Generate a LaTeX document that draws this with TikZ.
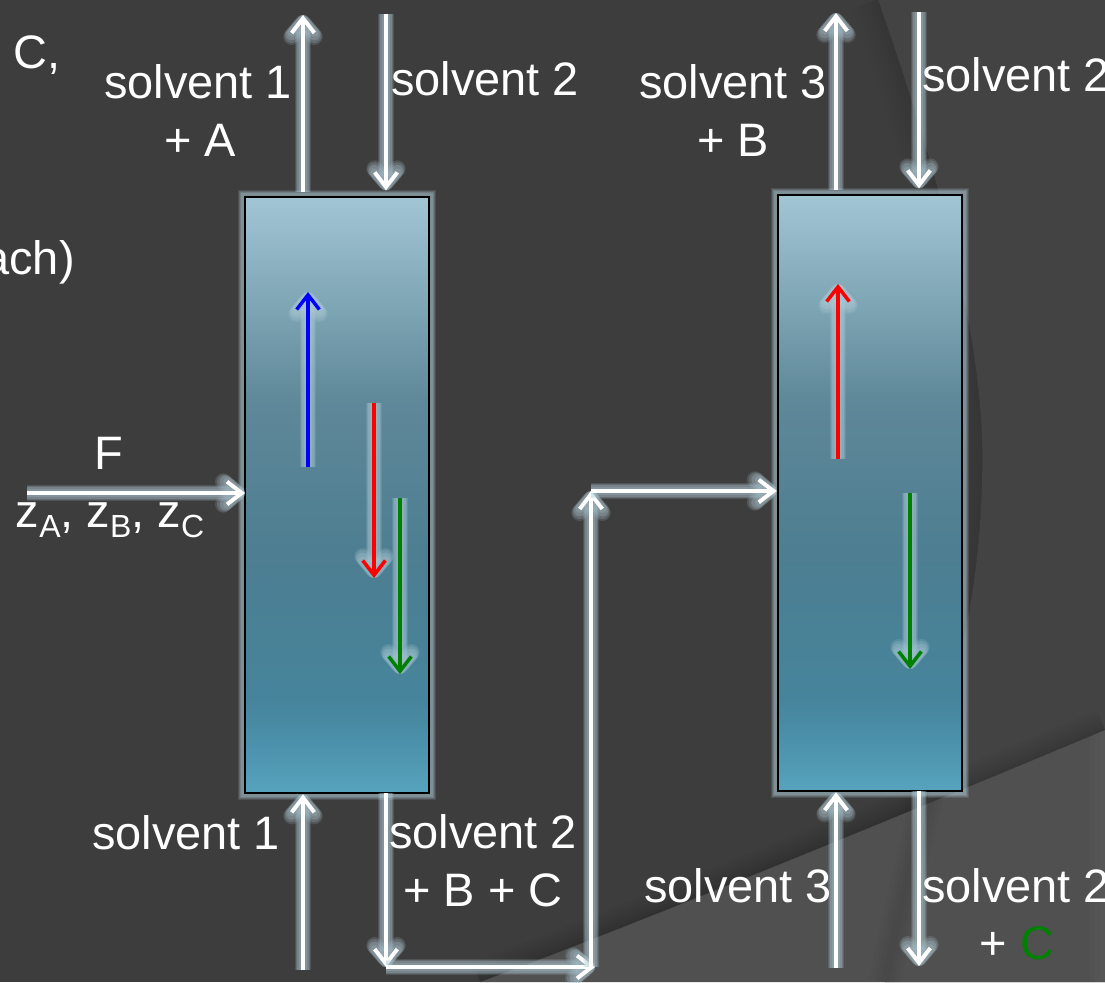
\documentclass[tikz,border=0pt]{standalone}
\usepackage{fontspec}
\setmainfont{Liberation Sans}
\usetikzlibrary{arrows.meta,calc}
\definecolor{slide}{HTML}{3D3D3D}
\definecolor{slideright}{HTML}{434343}
\definecolor{slidelow}{HTML}{505050}
\definecolor{glowblue}{HTML}{B4CFDA}
\definecolor{darkgreen}{HTML}{008000}
\definecolor{shadea}{HTML}{57A3BD}
\definecolor{shadeb}{HTML}{4B90AA}
\definecolor{shadec}{HTML}{46849B}
\definecolor{shaded}{HTML}{4D7E91}
\definecolor{shadee}{HTML}{5F8899}
\definecolor{shadef}{HTML}{7FA6B5}
\definecolor{shadeg}{HTML}{A2C5D4}
\pgfdeclareverticalshading{columnfill}{100bp}{
  color(0bp)=(shadea);color(25bp)=(shadea);
  color(29.4bp)=(shadeb);color(32.8bp)=(shadec);
  color(45bp)=(shaded);color(58bp)=(shadee);
  color(66bp)=(shadef);color(75bp)=(shadeg);color(100bp)=(shadeg)}
\newcommand{\ringedge}{(878,0) .. controls (930,150) and (985,330) .. (982,470) .. controls (980,640) and (930,760) .. (885,982)}
\newcommand{\lowedge}{(480,982) .. controls (620,930) and (830,845) .. (1105,730)}
\newcommand{\zsub}[1]{z\raisebox{-7.5pt}{\fontsize{24}{24}\selectfont #1}}
\tikzset{
  glowtip/.style={-{Straight Barb[length=10pt,width=17pt,round,line width=0pt 1]},line join=round},
  glow/.style={
    preaction={draw=glowblue,glowtip,line width=12.5pt,opacity=.16},
    preaction={draw=glowblue,glowtip,line width=11pt,opacity=.2},
    preaction={draw=glowblue,glowtip,line width=9pt,opacity=.25},
    preaction={draw=glowblue,glowtip,line width=6.5pt,opacity=.2}},
  flow/.style={glow,draw=white,line width=3pt,-{Straight Barb[length=11pt,width=17pt,line width=0pt 1]}},
  inner/.style={glow,line width=2.6pt,-{Straight Barb[length=11pt,width=17pt,line width=0pt 1]}},
  column/.style={rectangle,draw=black,line width=1.5pt,shading=columnfill,minimum width=138pt,minimum height=447pt,inner sep=0pt,outer sep=0pt,
    preaction={draw=glowblue,line width=11pt,opacity=.14},
    preaction={draw=glowblue,line width=9.5pt,opacity=.18},
    preaction={draw=glowblue,line width=8pt,opacity=.22},
    preaction={draw=glowblue,line width=6pt,opacity=.22}},
  label/.style={text=white,font=\fontsize{35.2}{43.5}\selectfont,align=center,inner sep=0pt,anchor=base}
}
\begin{document}
\begin{tikzpicture}[x=0.75pt,y=-0.75pt]
  \useasboundingbox (0,0) rectangle (1105,982);
  % slide background
  \fill[slide] (0,0) rectangle (1105,982);
  \fill[slideright] \ringedge -- (1105,982) -- (1105,0) -- cycle;
  \begin{scope}
    \clip \ringedge -- (0,982) -- (0,0) -- cycle;
    \foreach \w in {40,34,28,22,16,10,5} \draw[black,opacity=.014,line width=\w pt] \ringedge;
  \end{scope}
  \fill[slidelow] \lowedge -- (1105,982) -- cycle;
  \begin{scope}
    \clip \lowedge -- (1105,700) -- (440,700) -- (440,982) -- cycle;
    \foreach \w in {32,26,20,14,8,4} \draw[black,opacity=.025,line width=\w pt] \lowedge;
  \end{scope}
  \begin{scope}
    \clip \lowedge -- (1105,982) -- cycle;
    \foreach \x in {1090,1095,1100} \fill[white,opacity=.015] (\x,700) rectangle (1105,982);
    \foreach \w in {24,18,12,6} \draw[black,opacity=.015,line width=\w pt] \ringedge;
  \end{scope}
  % columns
  \node[column] (col1) at (337,495) {};
  \node[column] (col2) at (870,493) {};
  % free ends
  \coordinate (c1out) at (303,15);
  \coordinate (c1in) at (386,14);
  \coordinate (feed) at (27,493);
  \coordinate (c1sol) at (303,970);
  \coordinate (c1low) at (386,967);
  \coordinate (bendlow) at (591,967);
  \coordinate (bendup) at (591,491);
  \coordinate (c2out) at (836,13);
  \coordinate (c2in) at (919,12);
  \coordinate (c2sol) at (836,968);
  \coordinate (c2low) at (919,966);
  % streams
  \draw[flow,shorten <=4pt] (c1out |- col1.north) -- (c1out);
  \draw[flow,shorten >=5pt] (c1in) -- (c1in |- col1.north);
  \draw[flow] (feed) -- (feed -| col1.west);
  \draw[flow,shorten >=1pt] (c1sol) -- (c1sol |- col1.south);
  \draw[flow] (c1low |- col1.south) -- (c1low);
  \draw[flow,shorten >=-3pt] (c1low) -- (bendlow);
  \draw[flow] (bendlow) -- (bendup);
  \draw[flow,shorten >=1pt] (bendup) -- (bendup -| col2.west);
  \draw[flow,shorten <=4pt] (c2out |- col2.north) -- (c2out);
  \draw[flow,shorten >=5pt] (c2in) -- (c2in |- col2.north);
  \draw[flow,shorten >=1pt] (c2sol) -- (c2sol |- col2.south);
  \draw[flow] (c2low |- col2.south) -- (c2low);
  % components inside
  \coordinate (blue1) at (308,467);
  \coordinate (blue2) at (308,292);
  \coordinate (red1) at (374,403);
  \coordinate (red2) at (374,578);
  \coordinate (green1) at (400,498);
  \coordinate (green2) at (400,674);
  \coordinate (red3) at (838,459);
  \coordinate (red4) at (838,284);
  \coordinate (green3) at (910,493);
  \coordinate (green4) at (910,669);
  \draw[inner,draw=blue] (blue1) -- (blue2);
  \draw[inner,draw=red] (red1) -- (red2);
  \draw[inner,draw=darkgreen] (green1) -- (green2);
  \draw[inner,draw=red] (red3) -- (red4);
  \draw[inner,draw=darkgreen] (green3) -- (green4);
  % labels
  \node[label,anchor=base west] (cut1) at (13,68) {C,};
  \node[label,anchor=base east] (cut2) at (75,274) {ach)};
  \node[label] (top1) at (198,98) {solvent 1};
  \node[label] (top1b) at (200,156) {+ A};
  \node[label] (top2) at (485,95) {solvent 2};
  \node[label] (top3) at (733,98) {solvent 3};
  \node[label] (top3b) at (733,156) {+ B};
  \node[label,anchor=base west] (top4) at (922,91) {solvent 2};
  \node[label] (fname) at (109,469) {F};
  \node[label] (fcomp) at (110,527) {\zsub{A}, \zsub{B}, \zsub{C}};
  \node[label] (low1) at (186,849) {solvent 1};
  \node[label] (low2) at (483,848) {solvent 2};
  \node[label] (low2b) at (483,906) {+ B + C};
  \node[label] (low3) at (738,902) {solvent 3};
  \node[label,anchor=base west] (low4) at (922,902) {solvent 2};
  \node[label] (low4b) at (1017,959) {+ \textcolor{darkgreen}{C}};
\end{tikzpicture}
\end{document}
